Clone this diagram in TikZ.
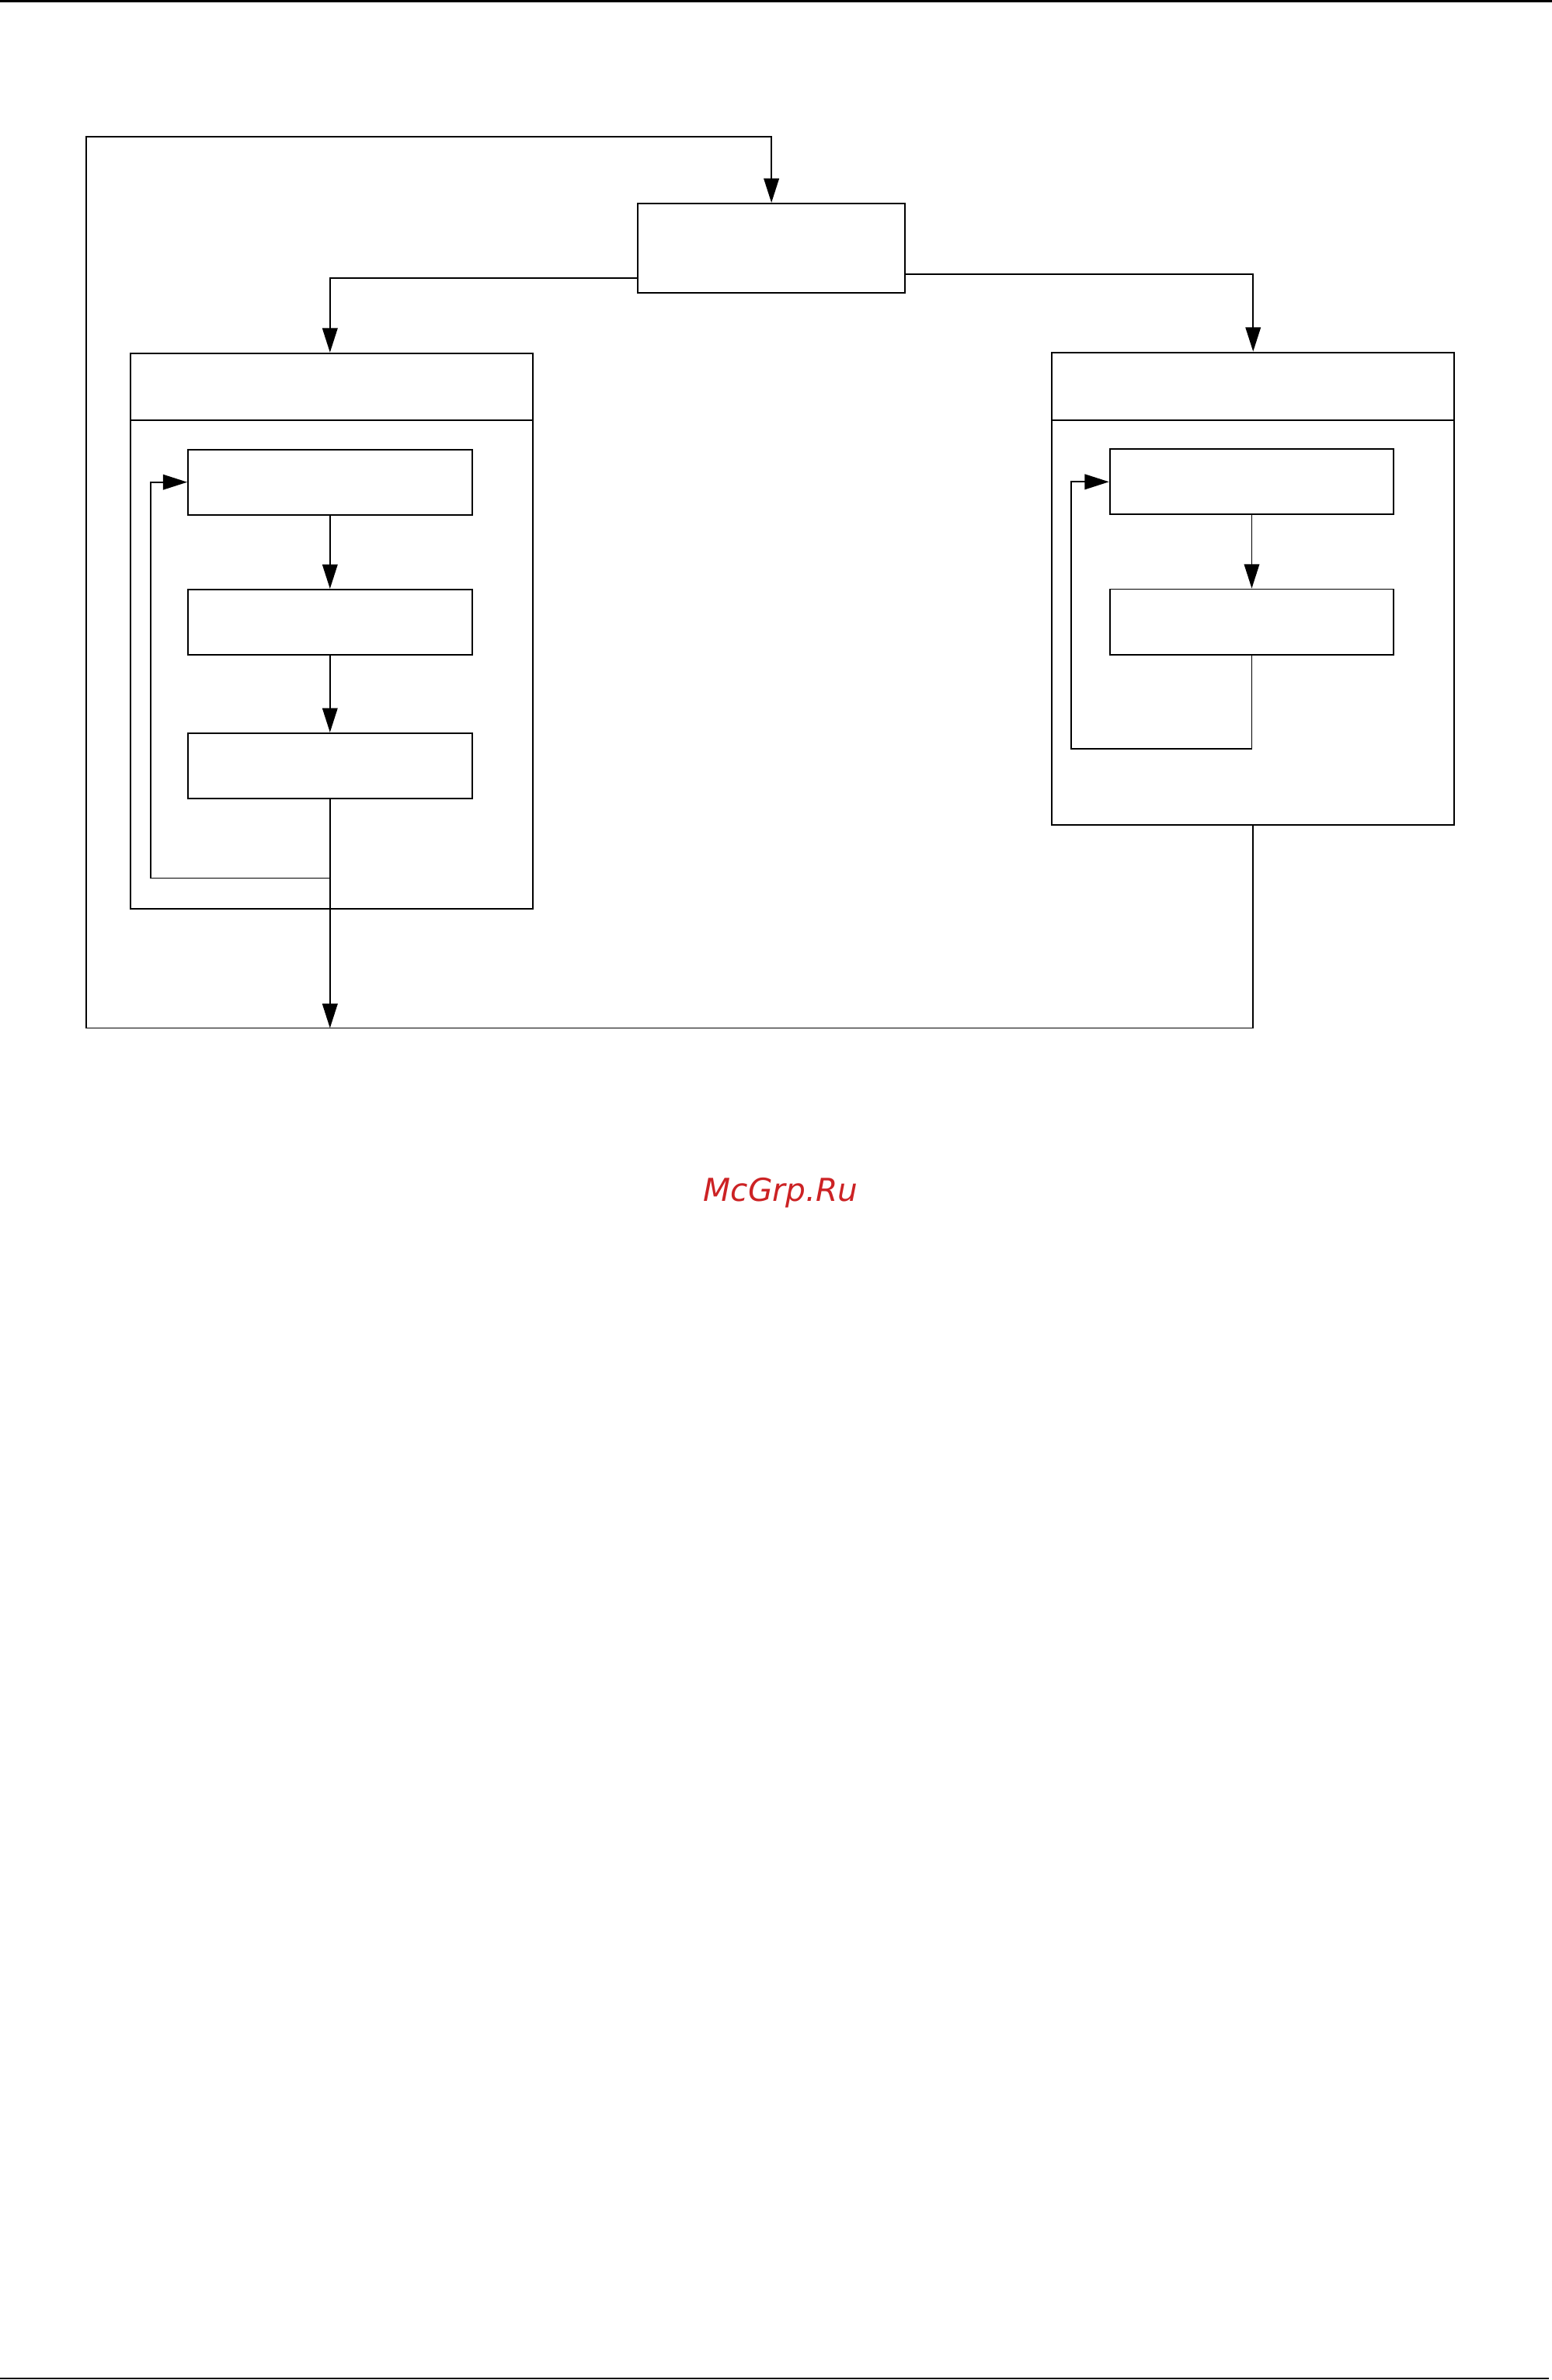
\documentclass[tikz,border=0pt]{standalone}
\usepackage{fontspec}
\setsansfont{DejaVu Sans}
\usetikzlibrary{arrows.meta,positioning,calc}
\definecolor{wmred}{RGB}{204,34,36}

\begin{document}
\begin{tikzpicture}[x=0.5mm, y=-0.5mm, line width=1.4pt, >={Triangle[length=8mm,width=5mm]}]
    \tikzstyle{block} = [rectangle, draw, line width=1.4pt, inner sep=0pt, minimum width=93.5mm, minimum height=21.5mm]
    \tikzstyle{group} = [rectangle, draw, line width=1.4pt, inner sep=0pt, minimum width=132.5mm]
    \tikzstyle{rule} = [line width=2pt]

    \useasboundingbox (0,0) rectangle (1022,1567.3);
    \draw[rule] (0,0.7) -- (1022,0.7);
    \draw[rule] (0,1566.3) -- (1020,1566.3);

    \node[block, minimum width=88mm, minimum height=29.5mm] (control) at (508,163.5) {};

    \node[group, minimum height=183mm] (leftgroup) at (218.5,415.6) {};
    \draw ($(leftgroup.north west)+(0,44.7)$) -- ($(leftgroup.north east)+(0,44.7)$);
    \node[block] (stepa) at (217.3,317.5) {};
    \node[block, below=24.1mm of stepa] (stepb) {};
    \node[block, below=25.3mm of stepb] (stepc) {};

    \node[group, minimum height=155.5mm] (rightgroup) at (825.2,387.5) {};
    \draw ($(rightgroup.north west)+(0,45)$) -- ($(rightgroup.north east)+(0,45)$);
    \node[block] (stepd) at (824.3,317.3) {};
    \node[block, below=24.1mm of stepd] (stepe) {};

    \coordinate (cornerbl) at (57,677);
    \coordinate (cornertl) at (57,90);

    \draw[->] ($(control.west)+(0,19.6)$) -| (stepa.north |- leftgroup.north);
    \draw[->] ($(control.east)+(0,16.9)$) -| (rightgroup.north);

    \draw[->] (stepa) -- (stepb);
    \draw[->] (stepb) -- (stepc);
    \draw[->] (stepd) -- (stepe);

    % loops inside the groups
    \draw[->] ($(stepc.south)+(0,52)$) -| ($(stepa.west)+(-24,0)$) -- (stepa.west);
    \draw[->] (stepe.south) -- ++(0,61.5) -| ($(stepd.west)+(-24.8,0)$) -- (stepd.west);

    % return path
    \draw[->] (stepc) -- (stepc.south |- cornerbl);
    \draw[->] (rightgroup.south) |- (cornerbl) -- (cornertl) -| (control.north);

    \node[text=wmred, font=\sffamily\itshape\fontsize{29.6}{34}\selectfont] (watermark) at (514,785.5) {McGrp.Ru};
\end{tikzpicture}
\end{document}
